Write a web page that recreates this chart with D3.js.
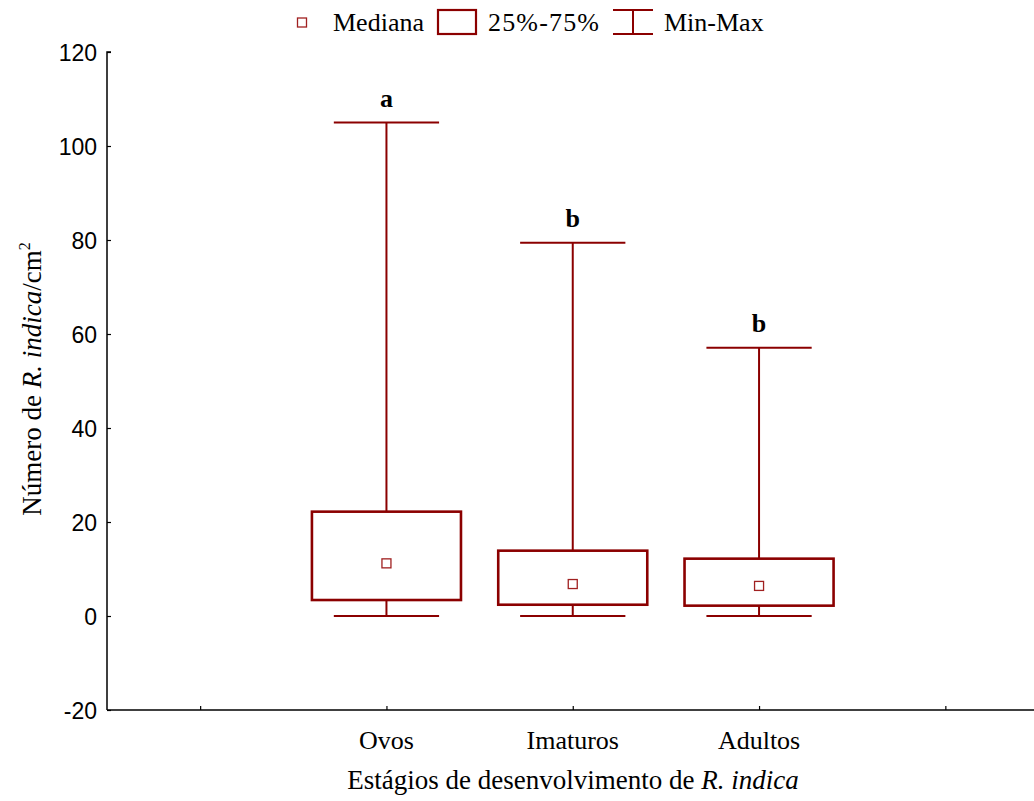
<!DOCTYPE html>
<html><head><meta charset="utf-8">
<script src="https://cdn.jsdelivr.net/npm/d3@7"></script>
<style>body{margin:0;background:#fff}</style>
</head><body>
<svg id="c" width="1034" height="801"></svg>
<script>
const categories = ["Ovos", "Imaturos", "Adultos"];
const minVals = [0, 0, 0];
const q1Vals = [3.4, 2.4, 2.2];
const medianVals = [11.2, 6.8, 6.4];
const q3Vals = [22.2, 13.9, 12.2];
const maxVals = [105, 79.4, 57.1];
const groupLetters = ["a", "b", "b"];
const yTicks = [-20, 0, 20, 40, 60, 80, 100, 120];

const red = "#8b0000";
const svg = d3.select("#c");
const x = d3.scaleLinear().domain([-0.5, 4.5]).range([107, 1038.5]);
const y = d3.scaleLinear().domain([-20, 120]).range([710, 52]);
const xPos = i => x(i + 1);
const serif = "'Liberation Serif','Times New Roman',serif";
const fs = 26;

// axes
const yAxis = svg.append("g").attr("transform", `translate(${x(-0.5)},0)`)
  .call(d3.axisRight(y).tickValues(yTicks).tickSize(4).tickFormat(d => String(d)));
yAxis.select(".domain").attr("d", `M4,${y(120)}H0V${y(-20)}`).attr("stroke", "#000").attr("stroke-width", 1.5);
yAxis.selectAll(".tick line").attr("stroke", "#000").attr("stroke-width", 1.2);
yAxis.selectAll(".tick text").attr("x", -10).attr("dy", "0.36em").attr("text-anchor", "end")
  .attr("font-family", "'Liberation Sans',Arial,sans-serif").attr("font-size", 23).attr("fill", "#000");

const xAxis = svg.append("g").attr("transform", `translate(0,${y(-20)})`)
  .call(d3.axisTop(x).tickValues([0, 1, 2, 3, 4]).tickSize(4).tickFormat(""));
xAxis.select(".domain").attr("d", `M${x(-0.5)},0H1034`).attr("stroke", "#000").attr("stroke-width", 1.5);
xAxis.selectAll(".tick line").attr("stroke", "#000").attr("stroke-width", 1.2);

svg.append("g").selectAll("text").data(categories).join("text")
  .attr("x", (d, i) => xPos(i)).attr("y", 749).attr("text-anchor", "middle")
  .attr("font-family", serif).attr("font-size", fs).text(d => d);

// axis titles
const xt = svg.append("text").attr("x", 573).attr("y", 789).attr("text-anchor", "middle")
  .attr("font-family", serif).attr("font-size", 27);
xt.append("tspan").text("Estágios de desenvolvimento de ");
xt.append("tspan").attr("font-style", "italic").text("R. indica");

const yt = svg.append("text").attr("transform", "translate(41,379) rotate(-90)").attr("text-anchor", "middle")
  .attr("font-family", serif).attr("font-size", 27);
yt.append("tspan").text("Número de ");
yt.append("tspan").attr("font-style", "italic").text("R. indica");
yt.append("tspan").text("/cm");
yt.append("tspan").attr("font-size", 16).attr("dy", -11).text("2");

// boxes
const boxW = x(0.8) - x(0);
const capW = x(0.565) - x(0);
const g = svg.append("g");
categories.forEach((c, i) => {
  const cx = xPos(i);
  g.append("line").attr("x1", cx).attr("x2", cx).attr("y1", y(maxVals[i])).attr("y2", y(q3Vals[i]))
    .attr("stroke", red).attr("stroke-width", 2);
  g.append("line").attr("x1", cx).attr("x2", cx).attr("y1", y(q1Vals[i])).attr("y2", y(minVals[i]))
    .attr("stroke", red).attr("stroke-width", 2);
  [maxVals[i], minVals[i]].forEach(v => {
    g.append("line").attr("x1", cx - capW / 2).attr("x2", cx + capW / 2).attr("y1", y(v)).attr("y2", y(v))
      .attr("stroke", red).attr("stroke-width", 2);
  });
  g.append("rect").attr("x", cx - boxW / 2).attr("y", y(q3Vals[i])).attr("width", boxW)
    .attr("height", y(q1Vals[i]) - y(q3Vals[i])).attr("fill", "none").attr("stroke", red).attr("stroke-width", 2.6);
  g.append("rect").attr("x", cx - 4.5).attr("y", y(medianVals[i]) - 4.5).attr("width", 9).attr("height", 9)
    .attr("fill", "#fff").attr("stroke", "#a02020").attr("stroke-width", 1.3);
  g.append("text").attr("x", cx).attr("y", y(maxVals[i]) - 16).attr("text-anchor", "middle")
    .attr("font-family", serif).attr("font-weight", "bold").attr("font-size", fs).text(groupLetters[i]);
});

// legend
const lg = svg.append("g").attr("font-family", serif).attr("font-size", fs);
lg.append("rect").attr("x", 297.5).attr("y", 18).attr("width", 9).attr("height", 9)
  .attr("fill", "#fff").attr("stroke", "#a02020").attr("stroke-width", 1.3);
lg.append("text").attr("x", 333).attr("y", 31).text("Mediana");
lg.append("rect").attr("x", 438).attr("y", 10).attr("width", 38).attr("height", 24)
  .attr("fill", "none").attr("stroke", red).attr("stroke-width", 2.2);
lg.append("text").attr("x", 488).attr("y", 31).attr("textLength", 111).text("25%-75%");
lg.append("line").attr("x1", 613).attr("x2", 653).attr("y1", 10).attr("y2", 10).attr("stroke", red).attr("stroke-width", 2);
lg.append("line").attr("x1", 613).attr("x2", 653).attr("y1", 34).attr("y2", 34).attr("stroke", red).attr("stroke-width", 2);
lg.append("line").attr("x1", 633).attr("x2", 633).attr("y1", 10).attr("y2", 34).attr("stroke", red).attr("stroke-width", 2);
lg.append("text").attr("x", 664).attr("y", 31).text("Min-Max");
</script>
</body></html>
